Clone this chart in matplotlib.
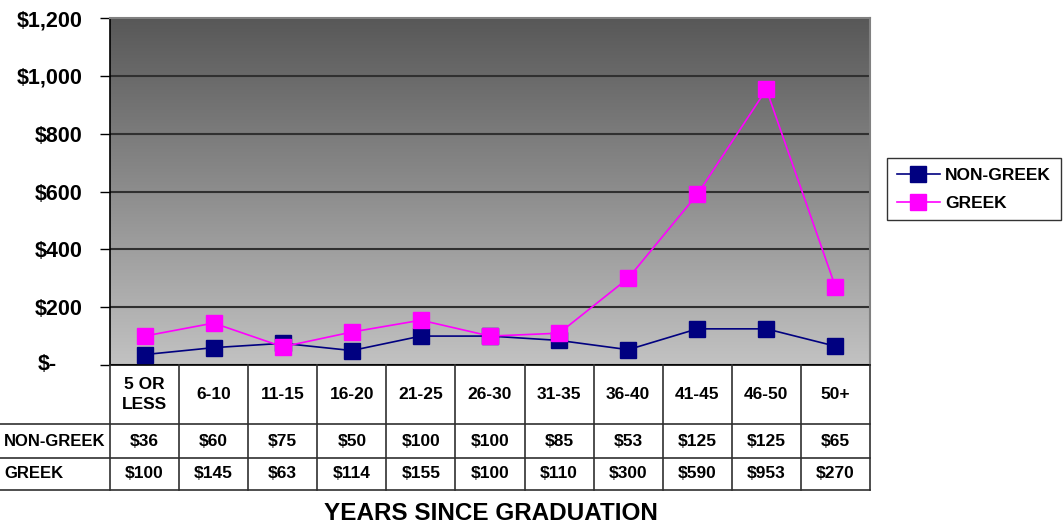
import numpy as np
import matplotlib
matplotlib.use('Agg')
import matplotlib.pyplot as plt
from matplotlib.colors import LinearSegmentedColormap

# fonte parecida com Arial, tudo em negrito
plt.rcParams['font.family'] = ['Liberation Sans', 'DejaVu Sans']
plt.rcParams['font.weight'] = 'bold'

# dados
anos = ['5 OR\nLESS', '6-10', '11-15', '16-20', '21-25', '26-30',
        '31-35', '36-40', '41-45', '46-50', '50+']
non_greek = [36, 60, 75, 50, 100, 100, 85, 53, 125, 125, 65]
greek = [100, 145, 63, 114, 155, 100, 110, 300, 590, 953, 270]
nomes = ['NON-GREEK', 'GREEK']
cores = ['#000080', '#FF00FF']
yticks = [0, 200, 400, 600, 800, 1000, 1200]

W, H = 1064, 527
fig = plt.figure(figsize=(W / 100, H / 100), dpi=100)
ax = fig.add_axes([110 / W, 1 - 365 / H, 760 / W, 347 / H])

x = np.arange(len(anos))
ax.set_xlim(-0.5, len(anos) - 0.5)
ax.set_ylim(yticks[0], yticks[-1])

# fundo em degrade (claro embaixo, escuro em cima)
grad = np.linspace(0, 1, 256).reshape(-1, 1)
fundo = LinearSegmentedColormap.from_list('fundo', ['#c2c2c2', '#585858'])
ax.imshow(grad, aspect='auto', cmap=fundo, origin='lower', zorder=0,
          extent=[-0.5, len(anos) - 0.5, yticks[0], yticks[-1]])

ax.set_yticks(yticks)
ax.set_yticklabels([f'${v:,}' if v > 0 else '' for v in yticks])
ax.yaxis.grid(True, color='#303030', lw=1.5)
ax.tick_params(axis='y', length=7, width=1, pad=13, labelsize=15.5)
ax.tick_params(axis='x', bottom=False, labelbottom=False)
ax.annotate('$-', xy=(0, 0), xycoords=ax.get_yaxis_transform(),
            xytext=(-53, 0), textcoords='offset pixels',
            ha='right', va='center', fontsize=15.5)

for s in ['left', 'bottom']:
    ax.spines[s].set_color('black')
    ax.spines[s].set_linewidth(1.2)
for s in ['top', 'right']:
    ax.spines[s].set_color('#808080')
    ax.spines[s].set_linewidth(1.5)

linhas = []
for vals, cor, nome in zip([non_greek, greek], cores, nomes):
    l, = ax.plot(x, vals, color=cor, marker='s', markersize=11, lw=1.2,
                 label=nome, clip_on=False, zorder=3)
    linhas.append(l)

# tabela de dados embaixo
tab = fig.add_axes([0, 1 - 490 / H, 870 / W, 125 / H])
passo = 760 / len(anos)
esq = -0.5 - 110 / passo
tab.set_xlim(esq, len(anos) - 0.5)
tab.set_ylim(125, 0)
tab.axis('off')

bordas = [0, 59, 93, 125]
for b in np.arange(-0.5, len(anos)):
    tab.plot([b, b], [0, 125], color='#303030', lw=1.2, clip_on=False)
for yb in bordas[1:]:
    tab.plot([esq, len(anos) - 0.5], [yb, yb], color='#303030', lw=1.2,
             clip_on=False)

meio = [(bordas[i] + bordas[i + 1]) / 2 for i in range(3)]
for i, a in enumerate(anos):
    tab.text(i, meio[0], a, ha='center', va='center', fontsize=12.5,
             linespacing=1.45)
    tab.text(i, meio[1], f'${non_greek[i]}', ha='center', va='center',
             fontsize=12.5)
    tab.text(i, meio[2], f'${greek[i]}', ha='center', va='center',
             fontsize=12.5)
for j, nome in enumerate(nomes):
    tab.text(esq + 4 / passo, meio[j + 1], nome, ha='left', va='center',
             fontsize=12)

fig.text(491 / W, 1 - 513 / H, 'YEARS SINCE GRADUATION', ha='center',
         va='center', fontsize=17.5)

leg = fig.legend(handles=linhas, loc='upper left',
                 bbox_to_anchor=(887 / W, 1 - 158 / H), fontsize=12.5,
                 frameon=True, fancybox=False, edgecolor='black',
                 handlelength=2.5, borderaxespad=0, borderpad=0.55,
                 labelspacing=0.75, handletextpad=0.3)
leg.get_frame().set_linewidth(1)

fig.savefig('out.png', dpi=100)
